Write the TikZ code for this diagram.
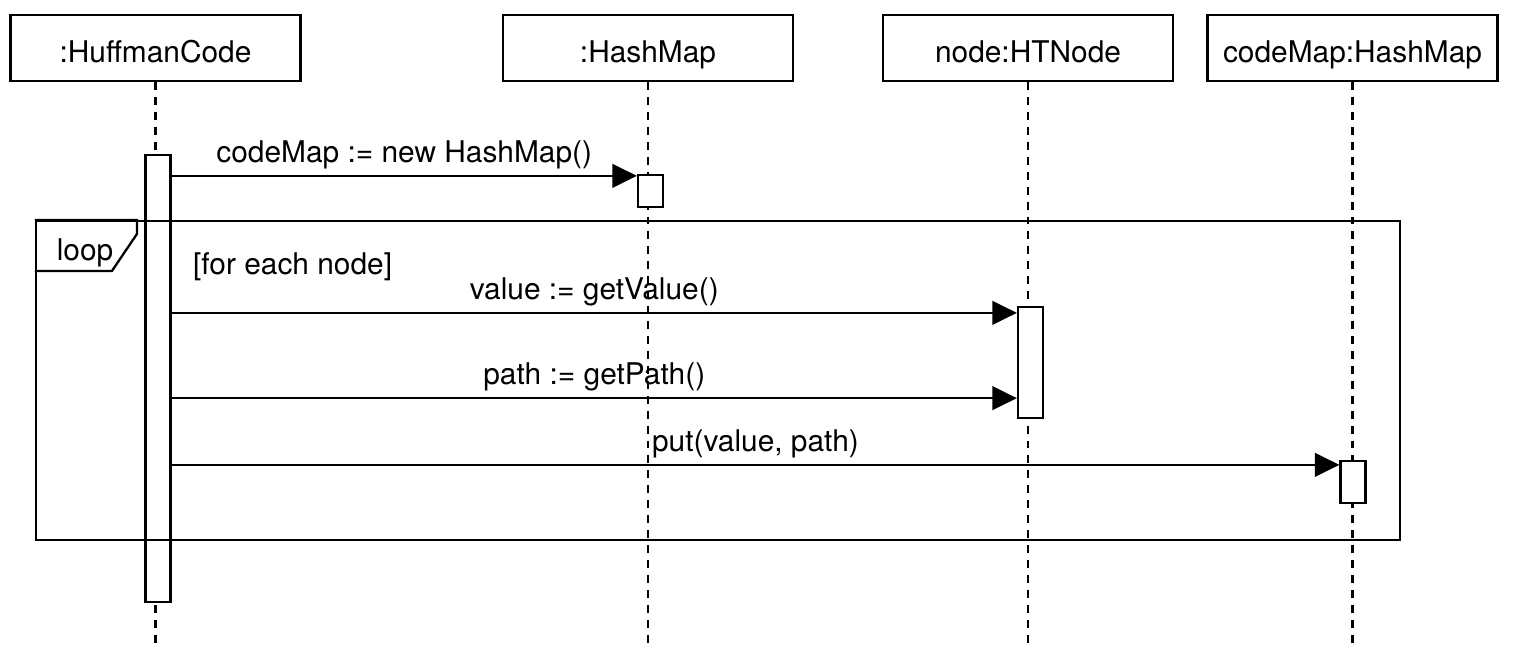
\documentclass[tikz,border=0pt]{standalone}
\usepackage{fontspec}
\setmainfont{TeX Gyre Heros}
\usepackage{tikz}
\usetikzlibrary{positioning}
\usetikzlibrary{arrows.meta, calc}

\begin{document}
\begin{tikzpicture}[x=0.02cm, y=-0.02cm, >={Triangle[length=14pt, width=13.5pt]}, font=\fontsize{17}{20}\selectfont, line width=1.3pt]%
    \tikzstyle{head} = [ rectangle, draw = black, fill = white, minimum width = 5.8cm, minimum height = 1.32cm, inner sep = 0pt, text height = 16.8pt, text depth = 0pt]
    \tikzstyle{act} = [ rectangle, draw = black, fill = white, minimum width = 0.5cm, inner sep = 0pt]
    \tikzstyle{life} = [ dash pattern = on 4.5pt off 4pt]
    \tikzstyle{msg} = [ ->]
    \tikzstyle{frame} = [ rectangle, draw = black, inner sep = 0pt]
    \useasboundingbox (0,0) rectangle (1516,656);
    %% Lifeline heads
    \node [head] (hc) at (155.5,48) {:HuffmanCode};
    \node [head] (hm) at (648,48) {:HashMap};
    \node [head] (nd) at (1028,48) {node:HTNode};
    \node [head] (cm) at (1352.5,48) {codeMap:HashMap};
    \coordinate (bottom) at (0,645);
    \foreach \h in {hc, hm, nd, cm}
        \draw [life] (\h.south) -- (\h.south |- bottom);

    %% Activations
    \node [act, minimum height = 8.94cm] (a1) at (158,378.5) {};
    \node [act, minimum height = 0.64cm] (a2) at (650.5,191) {};
    \node [act, minimum height = 2.22cm] (a3) at (1030.5,362.5) {};
    \node [act, minimum height = 0.84cm] (a4) at (1353,482) {};

    %% Loop fragment
    \node [frame, minimum width = 27.28cm, minimum height = 6.38cm] (fr) at (718,380.5) {};
    \draw (fr.north west) -- ++(102,0) -- ++(0,14) -- ++(-25,37) -- ++(-77,0);
    \node (lp) at ($(fr.north west)+(50,33)$) {loop};
    \node [anchor = west, inner sep = 0pt] (gd) at ($(fr.north west)+(157,47)$) {[for each node]};

    %% Messages
    \coordinate (m1) at ([yshift=-0.04cm]a2.north west);
    \coordinate (m2) at ([yshift=-0.14cm]a3.north west);
    \coordinate (m3) at ([yshift=0.42cm]a3.south west);
    \coordinate (m4) at ([yshift=-0.1cm]a4.north west);
    \draw [msg] (a1.east |- m1) -- node [above] (l1) {codeMap := new HashMap()} (m1);
    \draw [msg] (a1.east |- m2) -- node [above] (l2) {value := getValue()} (m2);
    \draw [msg] (a1.east |- m3) -- node [above] (l3) {path := getPath()} (m3);
    \draw [msg] (a1.east |- m4) -- node [above] (l4) {put(value, path)} (m4);
\end{tikzpicture}
\end{document}
